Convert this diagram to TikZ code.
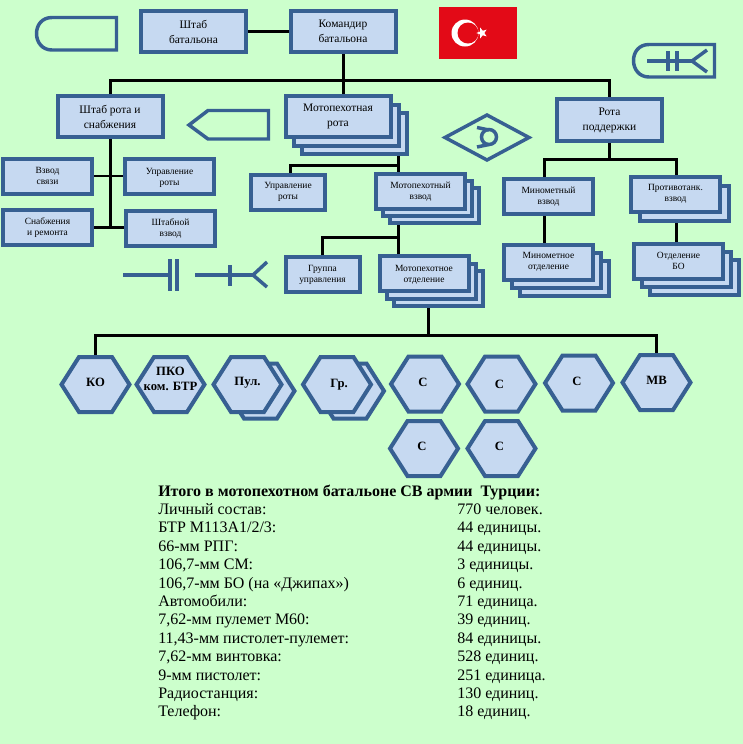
\documentclass[tikz,border=0pt]{standalone}
\usepackage{fontspec}
\setmainfont{Liberation Serif}
\usetikzlibrary{shapes.geometric,shadows,backgrounds}
\definecolor{pagegreen}{HTML}{CCFFCC}
\definecolor{boxfill}{HTML}{C6D9F1}
\definecolor{boxline}{HTML}{376092}
\definecolor{flagred}{HTML}{E30A17}
\tikzset{
  unitbox/.style={draw=boxline,fill=boxfill,line width=3pt,inner sep=0pt,align=center},
  bigbox/.style={unitbox,minimum width=78.75pt,minimum height=30.75pt,
    font=\fontsize{8.6}{11.2}\selectfont},
  midbox/.style={unitbox,minimum width=66.75pt,minimum height=26.25pt,
    font=\fontsize{7.1}{8.3}\selectfont},
  lowtext/.style={text depth=0pt},
  stack/.style 2 args={double copy shadow={shadow xshift=#1*0.75pt,shadow yshift=-#2*0.75pt,
    fill=boxfill,draw=boxline,opacity=1}},
  link/.style={draw=black,line width=2.25pt},
  thinlink/.style={draw=black,line width=1.5pt},
  icon/.style={draw=boxline,line width=2.6pt,line join=miter},
  hexline/.style={draw=boxline,fill=boxfill,line width=3pt,line join=miter},
  hextext/.style={minimum width=60pt,minimum height=41.25pt,inner sep=0pt,yshift=1.5pt,
    align=center,font=\fontsize{9.5}{11.25}\selectfont\bfseries},
  tabletext/.style={inner sep=0pt,anchor=base west,font=\fontsize{12}{14}\selectfont}
}
\newcommand{\hexpath}[2]{(#1-34,#2) -- (#1-16.5,#2-27.5) -- (#1+16.5,#2-27.5) -- (#1+34,#2)
  -- (#1+16.5,#2+27.5) -- (#1-16.5,#2+27.5) -- cycle}
\newcommand{\hexcell}[5][]{
  \draw[hexline] \hexpath{#3}{#4};
  \node[hextext,#1] (#2) at (#3,#4) {#5};
}
\begin{document}
\begin{tikzpicture}[x=0.75pt,y=-0.75pt]
  \useasboundingbox (0,0) rectangle (743,744);
  % top boxes
  \node[bigbox] (stabbat) at (193.5,31.5) {Штаб\\батальона};
  \node[bigbox] (komand) at (343,31.5) {Командир\\батальона};
  \node[bigbox] (stabrota) at (110,116.5) {Штаб рота и\\снабжения};
  \node[bigbox,stack={8}{8.5}] (motorota) at (338,116.5) {Мотопехотная\\рота};
  \node[bigbox,minimum height=31.5pt] (rotapod) at (609.5,120) {Рота\\поддержки};
  % left column
  \node[midbox] (vzsvyaz) at (47.5,176) {Взвод\\связи};
  \node[midbox,lowtext] (uprleft) at (169.5,176.5) {Управление\\роты};
  \node[midbox] (snab) at (47.5,227.5) {Снабжения\\и ремонта};
  \node[midbox] (stabvz) at (170.5,228.5) {Штабной\\взвод};
  % middle column
  \node[midbox,minimum width=55.5pt] (uprmid) at (288,192) {Управление\\роты};
  \node[midbox,lowtext,stack={7}{7}] (motovz) at (420.5,191) {Мотопехотный\\взвод};
  \node[midbox,minimum width=55.5pt] (grupa) at (322.5,274.5) {Группа\\управления};
  \node[midbox,lowtext,stack={7}{7.5}] (motoot) at (424,273.5) {Мотопехотное\\отделение};
  % right column
  \node[midbox,lowtext] (minvz) at (548.5,196) {Минометный\\взвод};
  \node[midbox,stack={8}{8}] (minot) at (548.5,262) {Минометное\\отделение};
  \node[midbox,copy shadow={shadow xshift=6.75pt,shadow yshift=-6.75pt,
    fill=boxfill,draw=boxline,opacity=1}] (protvz) at (675.5,194) {Противотанк.\\взвод};
  \node[midbox,stack={8}{8}] (otdbo) at (678.5,261) {Отделение\\БО};

  % connectors
  \begin{pgfonlayer}{background}
    \fill[pagegreen] (0,0) rectangle (743,744);
    \coordinate (bus) at (343,80);
    \coordinate (rotadrop) at (398,165);
    \coordinate (vzdrop) at (398,237);
    \coordinate (supl) at (544,159);
    \coordinate (supr) at (676,159);
    \coordinate (hexbus) at (428,335);
    \draw[link] (stabbat) -- (komand);
    \draw[link] (komand.south) -- (komand.south |- motorota.north);
    \draw[link] (stabrota.north) |- (bus) -| (rotapod.north);
    \draw[link] (stabrota.south) -- (stabrota.south |- snab.east);
    \draw[link] (snab.east) -- (snab.east -| stabvz.west);
    \draw[thinlink] (vzsvyaz.east) -- (vzsvyaz.east -| uprleft.west);
    \draw[link] ([xshift=1.5pt]uprmid.north) |- (rotadrop);
    \draw[link] (rotadrop |- motorota.south) -- (rotadrop |- motovz.north);
    \draw[link] (grupa.north) |- (vzdrop);
    \draw[link] (vzdrop |- motovz.south) -- (vzdrop |- motoot.north);
    \draw[link] (rotapod.south) -- (rotapod.south |- supl);
    \draw[link] (supl |- minvz.north) -- (supl) -- (supr) -- (supr |- protvz.north);
    \draw[link] (supl |- minvz.south) -- (supl |- minot.north);
    \draw[link] (supr |- protvz.south) -- (supr |- otdbo.north);
    \draw[link] (hexbus |- motoot.south) -- (hexbus);
  \end{pgfonlayer}

  % flag
  \fill[flagred] (439,7) rectangle (517,59);
  \fill[white] (465,33) circle [radius=13.5];
  \fill[flagred] (468,33) circle [radius=10.5];
  \node[star,star points=5,star point ratio=2.4,fill=white,inner sep=0pt,minimum size=8.5pt,
    rotate=90] (flagstar) at (482,33) {};

  % signs
  \draw[icon] (58,17.5) -- (116.5,17.5) -- (116.5,50) -- (58,50) -- (52,50)
    .. controls (42,50) and (36.5,42) .. (36.5,33.5) .. controls (36.5,25) and (42,17.5) .. (52,17.5) -- cycle;
  \draw[icon] (189,125) -- (208,110.5) -- (268.5,110.5) -- (268.5,139) -- (208,139) -- cycle;
  \draw[icon] (445,137.5) -- (487,115) -- (529,137.5) -- (487,160) -- cycle;
  \draw[icon] (489,137) circle [radius=7.5];
  \draw[icon] (477,127.5) -- (489,130);
  \draw[icon] (477,147) -- (489,144.5);
  \draw[icon] (655,44.5) -- (714.5,44.5) -- (714.5,77) -- (655,77) -- (649,77)
    .. controls (639,77) and (633.5,69) .. (633.5,60.5) .. controls (633.5,52) and (639,44.5) .. (649,44.5) -- cycle;
  \draw[icon] (647,61) -- (692,61);
  \draw[icon] (668,51) -- (668,71);
  \draw[icon] (677,51) -- (677,71);
  \draw[icon] (707,50) -- (692,61) -- (707,72);
  \draw[icon] (123,275) -- (170,275);
  \draw[icon] (170,259) -- (170,291);
  \draw[icon] (177,259) -- (177,291);
  \draw[icon] (195,275) -- (253,275);
  \draw[icon] (230,265) -- (230,286);
  \draw[icon] (267,262) -- (253,275) -- (267,287);

  % hexagons
  \hexcell{hexko}{95.5}{384.5}{КО}
  \hexcell[text depth=5pt]{hexpko}{170.5}{384.5}{ПКО\\ком. БТР}
  \draw[hexline] \hexpath{260.5}{391};
  \hexcell{hexpul}{247.5}{384.5}{Пул.}
  \draw[hexline] \hexpath{350}{391};
  \hexcell[xshift=1.5pt,yshift=-1.5pt]{hexgr}{337}{384.5}{Гр.}
  \hexcell[xshift=-1.5pt]{hexca}{425}{384}{С}
  \hexcell[xshift=-1.5pt,yshift=-1.5pt]{hexcb}{501.5}{384}{С}
  \hexcell[xshift=-1.5pt]{hexcc}{579}{383}{С}
  \hexcell{hexmv}{656.5}{382.5}{МВ}
  \hexcell[xshift=-1.5pt]{hexcd}{424}{448.5}{С}
  \hexcell[xshift=-1.5pt]{hexce}{501.5}{448.5}{С}
  \begin{pgfonlayer}{background}
    \draw[link] (hexko.north) |- (hexbus) -| (hexmv.north);
  \end{pgfonlayer}

  % totals
  \node[tabletext,font=\fontsize{12}{14}\selectfont\bfseries] (total) at (158,496)
    {Итого в мотопехотном батальоне СВ армии\ \ Турции:};
  \foreach \nam/\val [count=\i] in {
    {Личный состав:}/{770 человек.},
    {БТР М113А1/2/3:}/{44 единицы.},
    {66-мм РПГ:}/{44 единицы.},
    {106,7-мм СМ:}/{3 единицы.},
    {106,7-мм БО (на «Джипах»)}/{6 единиц.},
    {Автомобили:}/{71 единица.},
    {7,62-мм пулемет М60:}/{39 единиц.},
    {11,43-мм пистолет-пулемет:}/{84 единицы.},
    {7,62-мм винтовка:}/{528 единиц.},
    {9-мм пистолет:}/{251 единица.},
    {Радиостанция:}/{130 единиц.},
    {Телефон:}/{18 единиц.}} {
    \node[tabletext] (nam\i) at (158,{496+\i*18.4}) {\nam};
    \node[tabletext] (val\i) at (457,{496+\i*18.4}) {\val};
  }
\end{tikzpicture}
\end{document}
